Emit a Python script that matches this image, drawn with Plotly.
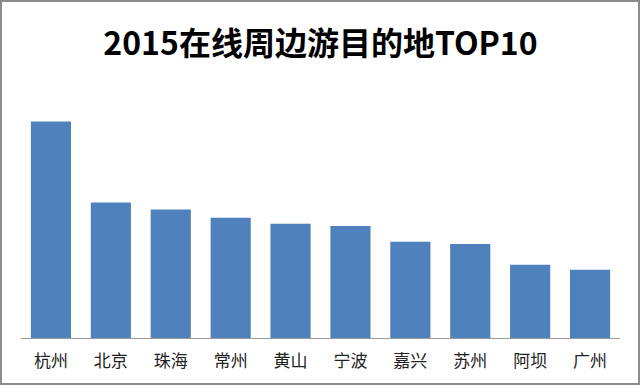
import plotly.graph_objects as go

categories = ["杭州", "北京", "珠海", "常州", "黄山", "宁波", "嘉兴", "苏州", "阿坝", "广州"]
values = [216.6, 135.6, 128.6, 120.3, 114.3, 112.0, 96.3, 94.0, 73.3, 68.3]
title_text = "2015在线周边游目的地TOP10"

W, H = 640, 385
L, R, T, B = 21, 20, 88, 47
pw, ph = W - L - R, H - T - B

fig = go.Figure(go.Bar(
    x=categories, y=values,
    marker=dict(color="#4F81BD", line=dict(width=0)),
    hoverinfo="x+y",
))

fig.update_layout(
    width=W, height=H,
    margin=dict(l=L, r=R, t=T, b=B),
    paper_bgcolor="white", plot_bgcolor="white",
    bargap=0.33,
    showlegend=False,
    title=dict(
        text=title_text,
        x=0.5, xanchor="center", xref="paper",
        y=1 - 44 / H, yanchor="middle",
        font=dict(family="Noto Sans CJK SC", size=32, color="black", weight="bold"),
    ),
    xaxis=dict(
        showline=True, linecolor="#9A9A9A", linewidth=1,
        showgrid=False, ticks="", zeroline=False,
        tickfont=dict(family="Noto Sans CJK SC", size=17, color="#222222"),
        ticklabelstandoff=8,
    ),
    yaxis=dict(
        range=[0, ph], visible=False, showgrid=False, zeroline=False,
    ),
    shapes=[dict(
        type="rect", xref="paper", yref="paper",
        x0=(1 - L) / pw, x1=(W - 1 - L) / pw,
        y0=(H - B - (H - 1)) / ph, y1=(H - B - 1) / ph,
        line=dict(color="#8C8C8C", width=2), fillcolor="rgba(0,0,0,0)",
        layer="above",
    )],
)

fig.write_html(
    "out.html",
    config={"displayModeBar": False},
    post_script="document.body.style.margin='0';document.body.style.overflow='hidden';",
)
